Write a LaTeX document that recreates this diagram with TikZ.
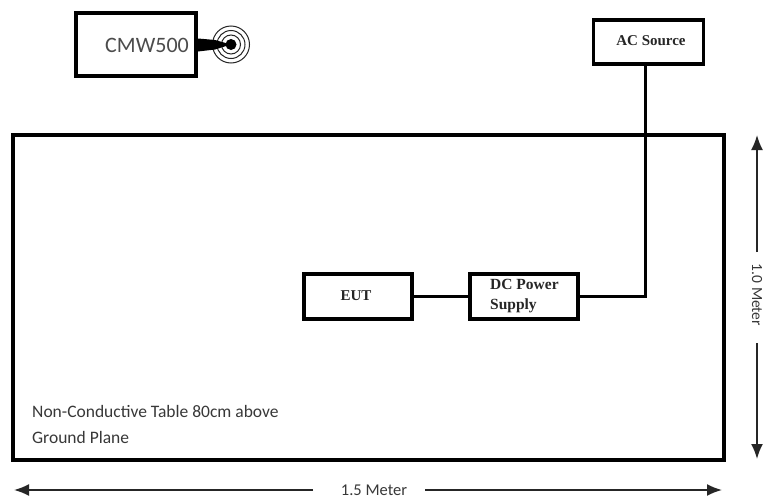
\documentclass[tikz,border=0pt]{standalone}
\usepackage{fontspec}
\setmainfont{Carlito}
\newfontfamily\serifl{Liberation Serif}
\usetikzlibrary{arrows.meta}
\tikzset{
  x=1pt,y=-1pt,
  boxthin/.style={draw=black,line width=3.2pt,fill=white,inner sep=0pt},
  boxfat/.style={draw=black,line width=4.4pt,fill=white,inner sep=0pt},
  wire/.style={draw=black,line width=3pt},
  dim/.style={draw=black!85,line width=1.8pt,-{Latex[length=15pt,width=12pt]}},
  lab/.style={text=black!78,inner sep=0pt,font=\bfseries\fontsize{17}{20}\selectfont},
  slab/.style={text=black!85,inner sep=0pt,font=\serifl\bfseries\fontsize{15}{18}\selectfont},
  ring/.style={draw=black!85,line width=1pt,fill=none}
}
\begin{document}
\begin{tikzpicture}
\useasboundingbox (0,0) rectangle (763,498);
\fill[white] (0,0) rectangle (763,498);
% table
\node[draw=black,line width=3.2pt,fill=white,minimum width=711pt,minimum height=325pt,inner sep=0pt] (tbl) at (368.5,297.5) {};
% boxes
\node[boxfat,minimum width=120pt,minimum height=63pt] (cmw) at (136,44.5) {};
\node[lab,text=black!70,font=\fontsize{22}{24}\selectfont,anchor=east] (cmwt) at (189,45) {CMW500};
\node[boxthin,minimum width=110pt,minimum height=44pt] (ac) at (648.5,42) {};
\node[slab] (act) at (651,40.5) {AC Source};
\node[boxthin,minimum width=108pt,minimum height=45pt] (eut) at (358,296.5) {};
\node[slab] (eutt) at (356,296) {EUT};
\node[boxthin,minimum width=108pt,minimum height=45pt] (dc) at (524,296.5) {};
\node[slab,anchor=west,align=left,font=\serifl\bfseries\fontsize{15.5}{20}\selectfont] (dct) at (490,296) {DC Power\\Supply};
% wires
\coordinate (corner) at (645,296.5);
\draw[wire] (eut.east) -- (dc.west);
\draw[wire] (dc.east) -- (corner) -- (corner |- ac.south);
% antenna
\coordinate (ant) at (231,44.5);
\node[circle,fill=black,minimum size=11pt,inner sep=0pt] (core) at (ant) {};
\foreach \r in {9.5,14,18.5}{\draw[ring] (ant) circle[radius=\r pt];}
\fill[black] (cmw.east) ++(0,-6) -- (215,40) -- (core.center) -- (215,49.5) -- ++(-17,2) -- cycle;
% dimensions
\node[lab,font=\fontsize{15.5}{18}\selectfont,rotate=-90] (oneM) at (757,295) {1.0 Meter};
\coordinate (vt) at (757,135);
\coordinate (vb) at (757,459);
\draw[dim] (757,252) -- (vt);
\draw[dim] (757,343) -- (vb);
\node[lab,font=\fontsize{16.5}{18}\selectfont] (hM) at (374,490) {1.5 Meter};
\coordinate (hl) at (14,490);
\coordinate (hr) at (722,490);
\draw[dim] (313,490) -- (hl);
\draw[dim] (425,490) -- (hr);
% caption
\node[lab,anchor=west,font=\fontsize{17.5}{20}\selectfont] (cap1) at (32,411) {Non-Conductive Table 80cm above};
\node[lab,anchor=west,font=\fontsize{17.5}{20}\selectfont] (cap2) at (32,437) {Ground Plane};
\end{tikzpicture}
\end{document}
